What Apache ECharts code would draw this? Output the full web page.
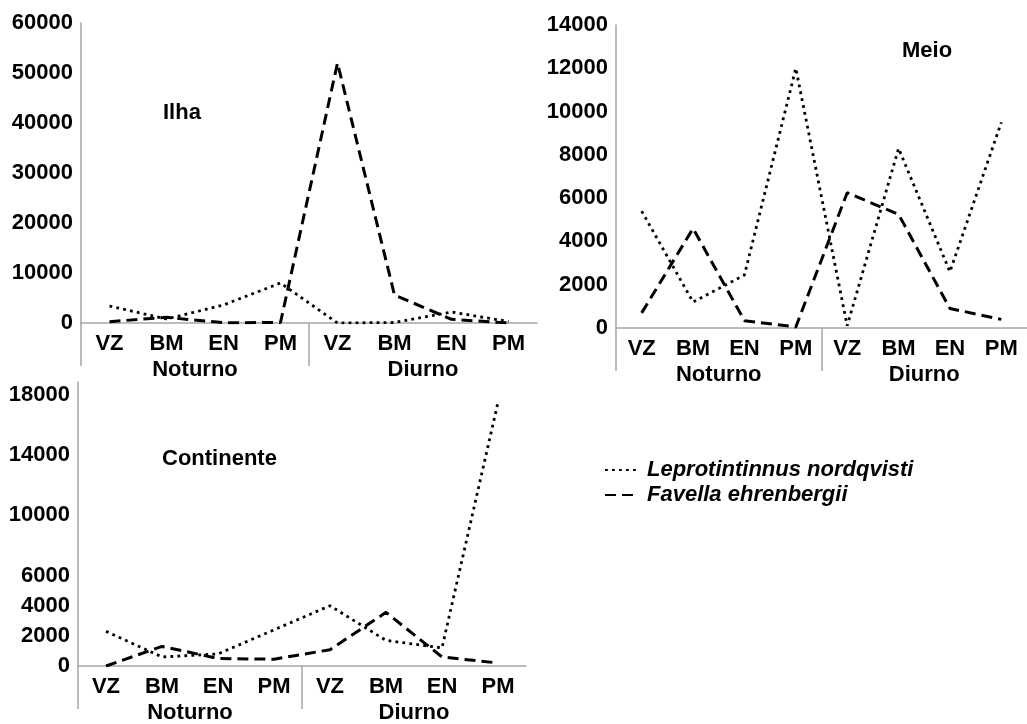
<!DOCTYPE html>
<html>
<head>
<meta charset="utf-8">
<script src="https://cdn.jsdelivr.net/npm/echarts@6/dist/echarts.min.js"></script>
<style>
html,body{margin:0;padding:0;background:#fff;}
#chart{width:1027px;height:724px;}
</style>
</head>
<body>
<div id="chart"></div>
<script>
// ---- data ----
const categories = ['VZ','BM','EN','PM','VZ','BM','EN','PM'];
const periods = ['Noturno','Diurno'];
const seriesNames = ['Leprotintinnus nordqvisti','Favella ehrenbergii'];

const ilhaLepro   = [3400, 800, 3600, 8000, 0, 100, 2200, 300];
const ilhaFavella = [270, 1130, 50, 100, 52000, 5600, 730, 0];

const meioLepro   = [5400, 1200, 2450, 12000, 100, 8300, 2600, 9500];
const meioFavella = [700, 4600, 340, 50, 6250, 5250, 900, 400];

const contLepro   = [2300, 600, 800, 2400, 4000, 1700, 1200, 17500];
const contFavella = [0, 1300, 500, 450, 1080, 3560, 600, 200];

const ilhaTicks = [0, 10000, 20000, 30000, 40000, 50000, 60000];
const meioTicks = [0, 2000, 4000, 6000, 8000, 10000, 12000, 14000];
const contTicks = [0, 2000, 4000, 6000, 10000, 14000, 18000];

const panelTitles = ['Ilha', 'Meio', 'Continente'];

// ---- styling ----
const FONT = 'Liberation Sans';
const AXIS_GRAY = '#a6a6a6';
const FS = 22;

const grids = [
  {left: 81,  top: 23,  width: 456, height: 300},
  {left: 616, top: 25,  width: 420, height: 303},
  {left: 78,  top: 382, width: 448, height: 291}
];
const yMax = [60000, 14000, 18850];
const yInt = [10000, 2000, 2000];
const tickLists = [ilhaTicks, meioTicks, contTicks];
const data = [[ilhaLepro, ilhaFavella],[meioLepro, meioFavella],[contLepro, contFavella]];

// boundary positions between categories (used only for the group separators)
const boundaries = Array.from({length: categories.length + 1}, (_, k) => 'b' + k);
const groupStart = [0, categories.length / periods.length];

const labelStyle = {color:'#000', fontSize: FS, fontWeight:'bold', fontFamily: FONT};

const xAxis = [], yAxis = [], series = [];
grids.forEach((g, i) => {
  xAxis.push({
    type:'category', gridIndex:i, data: categories, boundaryGap: true,
    axisLine:{show:true, onZero:true, lineStyle:{color:AXIS_GRAY, width:1.5}},
    axisTick:{show:false},
    axisLabel:Object.assign({interval:0, margin:10}, labelStyle),
    splitLine:{show:false}
  });
  xAxis.push({
    type:'category', gridIndex:i, data: periods, position:'bottom', boundaryGap:true,
    axisLine:{show:false}, axisTick:{show:false},
    axisLabel:Object.assign({interval:0, margin:36}, labelStyle),
    splitLine:{show:false}
  });
  xAxis.push({
    type:'category', gridIndex:i, data: boundaries, position:'bottom', boundaryGap:false,
    axisLine:{show:false}, axisLabel:{show:false}, splitLine:{show:false},
    axisTick:{show:true, length:43, interval:(idx)=> groupStart.indexOf(idx) >= 0,
              lineStyle:{color:AXIS_GRAY, width:1.5}}
  });
  const ticks = tickLists[i];
  yAxis.push({
    type:'value', gridIndex:i, min:0, max:yMax[i], interval:yInt[i],
    axisLine:{show:true, lineStyle:{color:AXIS_GRAY, width:1.5}},
    axisTick:{show:false}, splitLine:{show:false},
    axisLabel:Object.assign({margin:8, formatter:(v)=> ticks.indexOf(v) >= 0 ? String(v) : ''}, labelStyle)
  });
  series.push({
    name: seriesNames[0], type:'line', xAxisIndex: i*3, yAxisIndex: i,
    data: data[i][0], symbol:'none', showSymbol:false,
    lineStyle:{color:'#000', width:2.8, type:[2.8,4.2]},
    itemStyle:{color:'#000'}
  });
  series.push({
    name: seriesNames[1], type:'line', xAxisIndex: i*3, yAxisIndex: i,
    data: data[i][1], symbol:'none', showSymbol:false,
    lineStyle:{color:'#000', width:3, type:[11,6]},
    itemStyle:{color:'#000'}
  });
});

const titlePos = [[163, 114], [902, 52], [162, 460]];
const graphic = panelTitles.map((t, i) => ({
  type:'text', left: titlePos[i][0], top: titlePos[i][1] - 12,
  style:{text:t, fill:'#000', font:'bold ' + FS + 'px "' + FONT + '"'}
}));

const chart = echarts.init(document.getElementById('chart'), null, {renderer:'canvas'});
chart.setOption({
  animation:false,
  backgroundColor:'#fff',
  grid: grids.map(g => Object.assign({containLabel:false}, g)),
  xAxis, yAxis, series, graphic,
  legend:{
    orient:'vertical', left:599, top:454, itemWidth:32, itemHeight:14, itemGap:3,
    data: seriesNames,
    itemStyle:{color:'rgba(0,0,0,0)', borderWidth:0, opacity:0},
    textStyle:{color:'#000', fontSize:FS, fontStyle:'italic', fontWeight:'bold', fontFamily:FONT, padding:[0,0,0,5]}
  }
});
</script>
</body>
</html>
